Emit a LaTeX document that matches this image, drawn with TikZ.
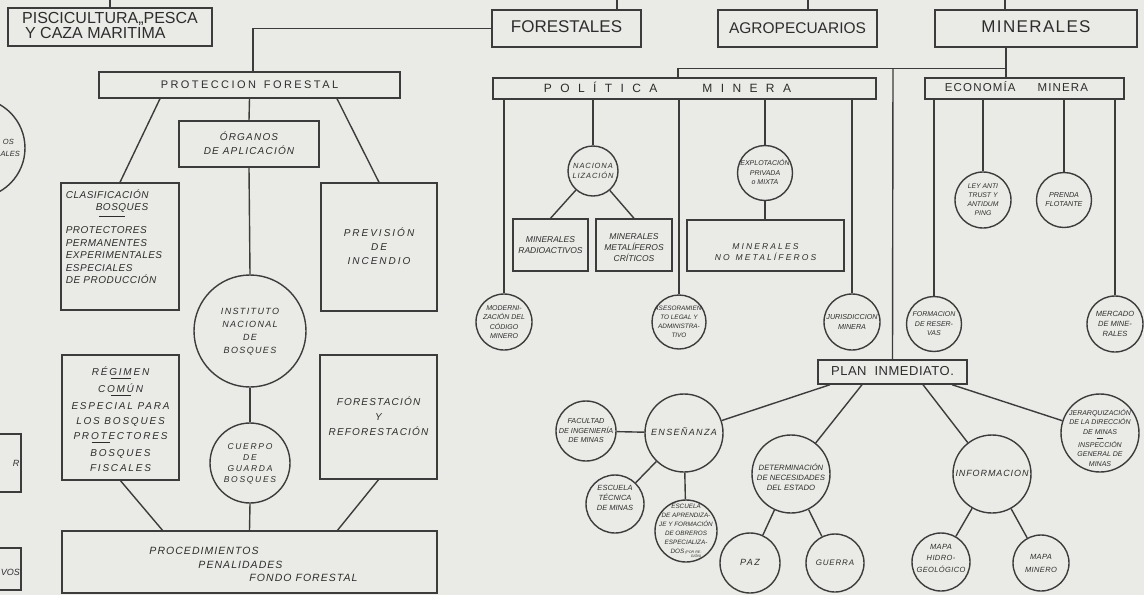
\documentclass[tikz,border=0pt]{standalone}
\usepackage{fontspec}
\setmainfont{Liberation Sans}
\usetikzlibrary{calc}
\definecolor{paper}{RGB}{234,234,230}
\definecolor{ink}{RGB}{45,45,45}
\definecolor{lin}{RGB}{60,60,60}
\newcommand\fsz[2]{\fontsize{#1}{#2}\selectfont}
\newcommand\lsp[1]{\addfontfeatures{LetterSpace=#1}}
\newcommand\ctxg[4]{\smash{\raisebox{\dimexpr#2-0.3em\relax}{\makebox[0pt]{\kern#1\begin{tabular}{@{}#3@{}}#4\end{tabular}\kern-#1}}}}
\newcommand\ctxt[1]{\ctxg{0pt}{0pt}{c}{#1}}
\newcommand\hrl[1]{\rule[0.3em]{#1}{0.7pt}}
\begin{document}
\begin{tikzpicture}[x=1pt,y=-1pt,
  every node/.style={text=ink, inner sep=0pt},
  box/.style={draw=lin, line width=1.4pt, rectangle},
  cir/.style={draw=lin, line width=1.4pt, circle},
  con/.style={draw=lin, line width=1.4pt},
  it/.style={font=\itshape}]
\useasboundingbox (0,0) rectangle (1144,595);
\fill[paper] (0,0) rectangle (1144,595);
\clip (0,0) rectangle (1144,595);

% free ends at the top edge
\coordinate (t1) at (110,0);
\coordinate (t2) at (617,0);
\coordinate (t3) at (808,0);
\coordinate (t4) at (1005,0);
\coordinate (jn) at (893,68);

% ---------------- left part ----------------
\node[box, minimum width=204pt, minimum height=38pt] (pisc) at (110,27)
  {\fsz{16}{14}\ctxg{0pt}{0pt}{l}{PISCICULTURA,,PESCA\\\hspace*{3pt}Y CAZA MARITIMA}};

\node[cir, it, minimum size=100pt] (lc) at (-25,148) {};
\node[it, anchor=east] (lct) at (20,148) {\fsz{7.5}{12}\begin{tabular}{@{}r@{}}OS\hspace*{6pt}\\ALES\end{tabular}};
\node[box, minimum width=40pt, minimum height=58pt] (lb1) at (1,463) {};
\node[it] (lb1t) at (16,463) {\fsz{9}{11}R};
\node[box, minimum width=40pt, minimum height=42pt] (lb2) at (1,569) {};
\node[it, anchor=east] (lb2t) at (20,572) {\fsz{9}{11}VOS};

\node[box, minimum width=301pt, minimum height=26pt] (protec) at (249.5,85)
  {\fsz{11}{13}\lsp{22}\ctxt{PROTECCION\hspace{8pt}FORESTAL}};
\node[box, it, minimum width=140pt, minimum height=46pt] (org) at (249,144)
  {\fsz{10}{14}\lsp{12}\ctxt{ÓRGANOS\\DE APLICACIÓN}};
\node[box, it, minimum width=118pt, minimum height=127pt] (clas) at (120,246.5)
  {\fsz{10}{12.5}\lsp{5}\ctxg{-6pt}{8.5pt}{l}{CLASIFICACIÓN\\\hspace*{30pt}BOSQUES\\[-4pt]\hspace*{33pt}\hrl{26pt}\\[2pt]PROTECTORES\\PERMANENTES\\EXPERIMENTALES\\ESPECIALES\\DE PRODUCCIÓN}};
\node[box, it, minimum width=116pt, minimum height=128pt] (prev) at (379,247)
  {\fsz{10}{14}\lsp{20}\ctxt{PREVISIÓN\\DE\\INCENDIO}};
\node[cir, it, minimum size=112pt] (inst) at (250,331)
  {\fsz{9}{12.7}\lsp{15}\ctxt{INSTITUTO\\NACIONAL\\DE\\BOSQUES}};
\node[box, it, minimum width=117pt, minimum height=125pt] (reg) at (120.5,417.5)
  {\fsz{10}{15}\lsp{18}\ctxg{0pt}{-2pt}{c}{RÉGIMEN\\[-8pt]\hrl{20pt}\\[-5pt]COMÚN\\[-8pt]\hrl{20pt}\\[-5pt]ESPECIAL PARA\\LOS BOSQUES\\PROTECTORES\\[-8pt]\hspace*{-40pt}\hrl{18pt}\\[-5pt]BOSQUES\\FISCALES}};
\node[box, it, minimum width=117pt, minimum height=124pt] (fore) at (378.5,417)
  {\fsz{10}{15}\lsp{12}\ctxt{FORESTACIÓN\\Y\\REFORESTACIÓN}};
\node[cir, it, minimum size=80pt] (cuer) at (250,463)
  {\fsz{8.5}{11}\lsp{20}\ctxt{CUERPO\\DE\\GUARDA\\BOSQUES}};
\node[box, it, minimum width=375pt, minimum height=62pt] (proc) at (249.5,562)
  {\fsz{10.5}{13.5}\lsp{10}\ctxg{4pt}{-3pt}{l}{PROCEDIMIENTOS\\\hspace*{49pt}PENALIDADES\\\hspace*{100pt}FONDO FORESTAL}};

% ---------------- right part ----------------
\node[box, minimum width=149pt, minimum height=37pt] (forest) at (566.5,28.5)
  {\fsz{17}{18}\ctxt{FORESTALES}};
\node[box, minimum width=159pt, minimum height=37pt] (agro) at (797.5,28.5)
  {\fsz{15.5}{18}\ctxt{AGROPECUARIOS}};
\node[box, minimum width=202pt, minimum height=37pt] (minr) at (1036,28.5)
  {\fsz{17}{18}\lsp{8}\ctxt{MINERALES}};

\node[box, minimum width=383pt, minimum height=21pt] (pol) at (684.5,88.5)
  {\fsz{12}{14}\lsp{70}\ctxg{-17pt}{0pt}{c}{POLÍTICA\hspace{45pt}MINERA}};
\node[box, minimum width=199pt, minimum height=21pt] (eco) at (1024.5,88.5)
  {\fsz{11.5}{14}\lsp{10}\ctxg{-8pt}{0pt}{c}{ECONOMÍA\hspace{22pt}MINERA}};

\node[cir, it, minimum size=56pt] (mod) at (504,322)
  {\fsz{7}{9.5}\ctxt{MODERNI-\\ZACIÓN DEL\\CÓDIGO\\MINERO}};
\node[cir, it, minimum size=50pt] (nac) at (593,171)
  {\fsz{7.5}{10}\lsp{12}\ctxt{NACIONA\\LIZACIÓN}};
\node[box, it, minimum width=75pt, minimum height=52pt] (rad) at (550.5,245)
  {\fsz{8.5}{11}\ctxt{MINERALES\\RADIOACTIVOS}};
\node[box, it, minimum width=76pt, minimum height=52pt] (met) at (634,245)
  {\fsz{8.5}{11}\ctxg{0pt}{-3pt}{c}{MINERALES\\METALÍFEROS\\CRÍTICOS}};
\node[cir, it, minimum size=54pt] (ase) at (679,322)
  {\fsz{6.4}{9}\ctxt{ASESORAMIEN-\\TO LEGAL Y\\ADMINISTRA-\\TIVO}};
\node[cir, it, minimum size=55pt] (exp) at (765,173)
  {\fsz{7}{9.5}\ctxt{EXPLOTACIÓN\\PRIVADA\\o MIXTA}};
\node[box, it, minimum width=157pt, minimum height=51pt] (nom) at (765.5,245.5)
  {\fsz{8.5}{10.5}\lsp{25}\ctxg{0pt}{-7pt}{c}{MINERALES\\NO\hspace{6pt}METALÍFEROS}};
\node[cir, it, minimum size=56pt] (jur) at (852,322)
  {\fsz{7.2}{9.5}\ctxt{JURISDICCION\\MINERA}};

\node[cir, it, minimum size=55pt] (form) at (934,324)
  {\fsz{7}{9.5}\ctxt{FORMACION\\DE RESER-\\VAS}};
\node[cir, it, minimum size=56pt] (ley) at (983,200)
  {\fsz{6.8}{9}\ctxt{LEY ANTI\\TRUST Y\\ANTIDUM\\PING}};
\node[cir, it, minimum size=55pt] (pre) at (1064,200)
  {\fsz{7.2}{9}\ctxt{PRENDA\\FLOTANTE}};
\node[cir, it, minimum size=56pt] (mer) at (1115,324)
  {\fsz{7.5}{10}\ctxt{MERCADO\\DE MINE-\\RALES}};

\node[box, minimum width=149pt, minimum height=24pt] (plan) at (892.5,372)
  {\fsz{13}{15}\lsp{4}\ctxt{PLAN\hspace{8pt}INMEDIATO.}};

\node[cir, it, minimum size=78pt] (ens) at (684,433)
  {\fsz{9}{11}\lsp{15}\ctxt{ENSEÑANZA}};
\node[cir, it, minimum size=78pt] (det) at (791,474)
  {\fsz{7.7}{10}\ctxg{0pt}{-4pt}{c}{DETERMINACIÓN\\DE NECESIDADES\\DEL ESTADO}};
\node[cir, it, minimum size=78pt] (inf) at (992,474)
  {\fsz{9}{11}\lsp{10}\ctxt{INFORMACION}};
\node[cir, it, minimum size=78pt] (jer) at (1100,433)
  {\fsz{7}{9.5}\ctxg{0pt}{-5.5pt}{c}{JERARQUIZACIÓN\\DE LA DIRECCIÓN\\DE MINAS\\[-3pt]\hrl{6pt}\\[-3pt]INSPECCIÓN\\GENERAL DE\\MINAS}};

\node[cir, it, minimum size=60pt] (fac) at (586,431)
  {\fsz{7.3}{9.5}\ctxt{FACULTAD\\DE INGENIERÍA\\DE MINAS}};
\node[cir, it, minimum size=58pt] (esc) at (615,504)
  {\fsz{7.5}{10}\ctxg{0pt}{6pt}{c}{ESCUELA\\TÉCNICA\\DE MINAS}};
\node[cir, it, minimum size=62pt] (apr) at (686,531)
  {\fsz{6.3}{9}\ctxt{ESCUELA\\DE APRENDIZA-\\JE Y FORMACIÓN\\DE OBREROS\\ESPECIALIZA-\\DOS\,{\fsz{3.6}{4}(POR RE-}\\[-5pt]\hspace*{20pt}{\fsz{3.6}{4}GIÓN)}}};
\node[cir, it, minimum size=60pt] (paz) at (750,563)
  {\fsz{9}{10}\lsp{15}\ctxt{PAZ}};
\node[cir, it, minimum size=58pt] (gue) at (835,563)
  {\fsz{8}{9}\lsp{10}\ctxt{GUERRA}};
\node[cir, it, minimum size=58pt] (hid) at (941,562)
  {\fsz{7.5}{11.5}\lsp{5}\ctxg{0pt}{4pt}{c}{MAPA\\HIDRO-\\GEOLÓGICO}};
\node[cir, it, minimum size=56pt] (mmi) at (1041,563)
  {\fsz{7.5}{12.5}\lsp{5}\ctxt{MAPA\\MINERO}};

% ---------------- connectors ----------------
\draw[con] (t1) -- (pisc.north);
\draw[con] (t2) -- (forest.north -| t2);
\draw[con] (t3) -- (agro.north -| t3);
\draw[con] (t4) -- (minr.north -| t4);
\draw[con] (forest.west) -| ([xshift=3.5pt]protec.north);
\draw[con] ([xshift=-89.5pt]protec.south) -- (clas.north);
\draw[con] (protec.south) -- (org.north);
\draw[con] ([xshift=87.5pt]protec.south) -- (prev.north);
\draw[con] (org.south) -- (inst.north);
\draw[con] (inst.south) -- (cuer.north);
\draw[con] (cuer.south) -- (proc.north);
\draw[con] (reg.south) -- ([xshift=-87pt]proc.north);
\draw[con] (fore.south) -- ([xshift=88pt]proc.north);

\draw[con] ([xshift=-30pt]minr.south) -- ++(0,21) -| ([xshift=-6.5pt]pol.north);
\draw[con] ([xshift=-30pt]minr.south) -- ([xshift=-18.5pt]eco.north);
\draw[con] (jn) -- (plan.north);

\draw[con] (pol.south -| mod.north) -- (mod.north);
\draw[con] (pol.south -| nac.north) -- (nac.north);
\draw[con] (pol.south -| ase.north) -- (ase.north);
\draw[con] (pol.south -| exp.north) -- (exp.north);
\draw[con] (pol.south -| jur.north) -- (jur.north);
\draw[con] (nac) -- (rad.north);
\draw[con] (nac) -- (met.north);
\draw[con] (exp.south) -- (nom.north -| exp.south);

\draw[con] (eco.south -| form.north) -- (form.north);
\draw[con] (eco.south -| ley.north) -- (ley.north);
\draw[con] (eco.south -| pre.north) -- (pre.north);
\draw[con] (eco.south -| mer.north) -- (mer.north);

\draw[con] ([xshift=-62.5pt]plan.south) -- (ens);
\draw[con] ([xshift=-30.5pt]plan.south) -- (det);
\draw[con] ([xshift=30.5pt]plan.south) -- (inf);
\draw[con] ([xshift=59.5pt]plan.south) -- (jer);

\draw[con] (fac) -- (ens);
\draw[con] (ens) -- (esc);
\draw[con] (ens) -- (apr);
\draw[con] (det) -- (paz);
\draw[con] (det) -- (gue);
\draw[con] (inf) -- (hid);
\draw[con] (inf) -- (mmi);
\end{tikzpicture}
\end{document}
